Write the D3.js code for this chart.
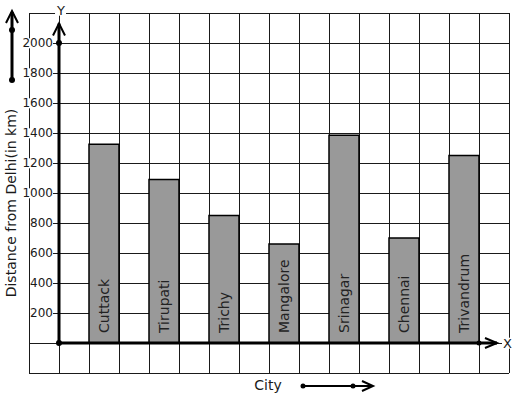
<!DOCTYPE html>
<html><head><meta charset="utf-8">
<script src="https://cdn.jsdelivr.net/npm/d3@7"></script>
<style>html,body{margin:0;padding:0;background:#fff;}svg{display:block;}</style>
</head><body>
<svg id="c" width="517" height="399"></svg>
<script>
const categories = ["Cuttack","Tirupati","Trichy","Mangalore","Srinagar","Chennai","Trivandrum"];
const distances = [1325, 1090, 850, 660, 1385, 700, 1250];
const yTickValues = [200,400,600,800,1000,1200,1400,1600,1800,2000];
const yTitle = "Distance from Delhi(in km)";
const xTitle = "City";

const svg = d3.select("#c");
const font = "DejaVu Sans, Verdana, sans-serif";
const ink = "#1a1a1a";

const y = d3.scaleLinear().domain([-200, 2200]).range([373, 13]);
const x = d3.scaleBand().domain(categories).range([59, 509]).paddingInner(0.5).paddingOuter(0.5);
const col = d3.scaleLinear().domain([0, 16]).range([29, 509]);

// grid
const g = svg.append("g");
g.selectAll("line.h").data(d3.range(-200, 2201, 200)).join("line")
  .attr("x1", col(0)).attr("x2", col(16))
  .attr("y1", d => y(d)).attr("y2", d => y(d))
  .attr("stroke", ink).attr("stroke-width", 1).attr("shape-rendering", "crispEdges");
g.selectAll("line.v").data(d3.range(0, 17)).join("line")
  .attr("x1", d => col(d)).attr("x2", d => col(d))
  .attr("y1", y(2200)).attr("y2", y(-200))
  .attr("stroke", ink).attr("stroke-width", 1).attr("shape-rendering", "crispEdges");

// bars
svg.selectAll("rect.bar").data(categories).join("rect")
  .attr("x", d => x(d)).attr("width", x.bandwidth())
  .attr("y", (d, i) => y(distances[i])).attr("height", (d, i) => y(0) - y(distances[i]))
  .attr("fill", "#999999").attr("stroke", "#000").attr("stroke-width", 1.5);

// bar labels
svg.selectAll("text.bl").data(categories).join("text")
  .attr("transform", d => `translate(${x(d) + x.bandwidth()/2},${y(0) - 10}) rotate(-90)`)
  .attr("dy", "0.36em")
  .attr("font-family", font).attr("font-size", 14).attr("fill", "#222")
  .text(d => d);

// y tick labels with white background
const tl = svg.append("g");
yTickValues.forEach(v => {
  const t = tl.append("text").attr("x", 53).attr("y", y(v)).attr("dy", "0.36em")
    .attr("text-anchor", "end").attr("font-family", font).attr("font-size", 12).attr("fill", ink)
    .text(v);
  const b = t.node().getBBox();
  tl.insert("rect", "text").attr("x", b.x).attr("y", b.y + 2).attr("width", b.width).attr("height", b.height - 4).attr("fill", "#fff");
});

// axes
const axisG = svg.append("g").attr("stroke", "#000").attr("fill", "none");
axisG.append("line").attr("x1", col(1)).attr("x2", col(1)).attr("y1", y(0)).attr("y2", y(2130)).attr("stroke-width", 3);
axisG.append("path").attr("d", `M${col(1)-6},${y(2130)+12} L${col(1)},${y(2130)} L${col(1)+6},${y(2130)+12}`).attr("stroke-width", 2);
axisG.append("line").attr("x1", col(1)).attr("x2", 497).attr("y1", y(0)).attr("y2", y(0)).attr("stroke-width", 3);
axisG.append("path").attr("d", `M${485},${y(0)-5} L${497},${y(0)} L${485},${y(0)+5}`).attr("stroke-width", 2);
svg.append("circle").attr("cx", col(1)).attr("cy", y(2000)).attr("r", 3).attr("fill", "#000");
svg.append("circle").attr("cx", col(1)).attr("cy", y(0)).attr("r", 3).attr("fill", "#000");
svg.append("circle").attr("cx", col(15)).attr("cy", y(0)).attr("r", 2.5).attr("fill", "#000");

// axis letters
function boxedLabel(txt, xx, yy, anchor) {
  const t = svg.append("text").attr("x", xx).attr("y", yy).attr("dy", "0.36em").attr("text-anchor", anchor)
    .attr("font-family", font).attr("font-size", 13).attr("fill", ink).text(txt);
  const b = t.node().getBBox();
  svg.insert("rect", () => t.node()).attr("x", b.x - 1).attr("y", b.y + 2).attr("width", b.width + 2).attr("height", b.height - 4).attr("fill", "#fff");
}
boxedLabel("Y", 61, 10, "middle");
boxedLabel("X", 503, y(0), "start");

// y title
svg.append("text").attr("transform", `translate(11,203) rotate(-90)`).attr("dy", "0.36em")
  .attr("text-anchor", "middle").attr("font-family", font).attr("font-size", 14).attr("fill", ink).text(yTitle);

// decorative arrow on the left
svg.append("line").attr("x1", 12).attr("x2", 12).attr("y1", 80).attr("y2", 12).attr("stroke", "#000").attr("stroke-width", 3);
svg.append("path").attr("d", "M6,23 L12,11 L18,23").attr("stroke", "#000").attr("stroke-width", 2).attr("fill", "none");
svg.append("circle").attr("cx", 12).attr("cy", 30).attr("r", 3).attr("fill", "#000");
svg.append("circle").attr("cx", 12).attr("cy", 80).attr("r", 3).attr("fill", "#000");

// x title and arrow
svg.append("text").attr("x", 268).attr("y", 385).attr("dy", "0.36em").attr("text-anchor", "middle")
  .attr("font-family", font).attr("font-size", 14).attr("fill", ink).text(xTitle);
svg.append("line").attr("x1", 303).attr("x2", 372).attr("y1", 386).attr("y2", 386).attr("stroke", "#000").attr("stroke-width", 2);
svg.append("path").attr("d", "M362,381 L373,386 L362,391").attr("stroke", "#000").attr("stroke-width", 2).attr("fill", "none");
svg.append("circle").attr("cx", 303).attr("cy", 386).attr("r", 2.5).attr("fill", "#000");
svg.append("circle").attr("cx", 353).attr("cy", 386).attr("r", 2.5).attr("fill", "#000");
</script>
</body></html>
